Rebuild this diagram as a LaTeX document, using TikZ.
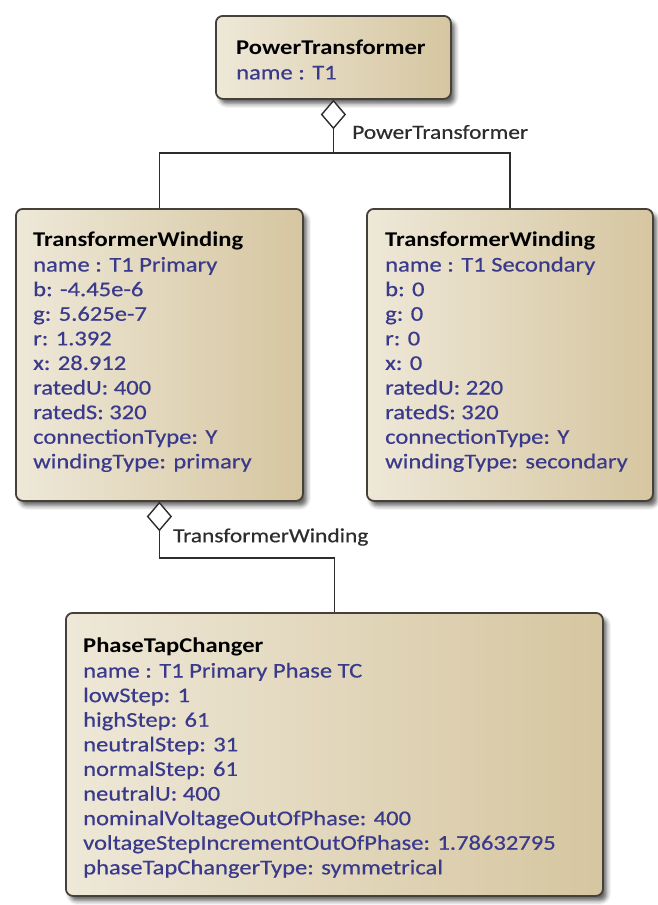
\documentclass[tikz,border=0pt]{standalone}
\usepackage{fontspec}
\setmainfont{Carlito}[FakeStretch=1.17, UprightFeatures={FakeBold=0.5}]
\usetikzlibrary{shapes.geometric,shadows.blur}

\definecolor{boxleft}{RGB}{238,232,216}
\definecolor{boxlight}{RGB}{248,245,236}
\definecolor{boxdark}{RGB}{214,198,160}
\definecolor{boxedge}{RGB}{70,64,58}
\definecolor{attrblue}{RGB}{58,58,140}
\definecolor{linkgray}{RGB}{45,45,45}

\tikzset{
  umlbox/.style={rectangle, rounded corners=7pt, draw=boxedge, line width=1.8pt,
    left color=boxleft, middle color=boxlight, right color=boxdark,
    blur shadow={shadow xshift=4pt, shadow yshift=-5pt, shadow blur radius=4pt, shadow opacity=60},
    inner sep=0pt, anchor=north west},
  attrs/.style={anchor=north west, inner sep=0pt, align=left, text=attrblue,
    font=\fontsize{21}{24.6}\selectfont},
  aggdiamond/.style={diamond, draw=linkgray, fill=white, line width=1.4pt,
    minimum width=24pt, minimum height=28pt, inner sep=0pt, anchor=north},
  link/.style={draw=linkgray, line width=1.4pt},
  rolelabel/.style={anchor=west, inner sep=0pt, text=linkgray,
    font=\fontsize{20}{24}\selectfont}
}
\newcommand{\clsname}[1]{{\color{black}\bfseries #1}}

\begin{document}
\begin{tikzpicture}[x=1pt,y=-1pt]
\useasboundingbox (0,0) rectangle (658,905);

% class boxes
\node[umlbox, minimum width=235, minimum height=83] (pt) at (215,15) {};
\node[umlbox, minimum width=287, minimum height=292] (lw) at (15,208) {};
\node[umlbox, minimum width=286, minimum height=292] (rw) at (366,208) {};
\node[umlbox, minimum width=537, minimum height=283] (ptc) at (65,612) {};

% box contents
\node[attrs] (ptT) at (236,40) {\clsname{PowerTransformer}\\name : T1};
\node[attrs] (lwT) at (33,232) {\clsname{TransformerWinding}\\
name : T1 Primary\\
b: -4.45e-6\\
g: 5.625e-7\\
r: 1.392\\
x: 28.912\\
ratedU: 400\\
ratedS: 320\\
connectionType: Y\\
windingType: primary};
\node[attrs] (rwT) at (385,232) {\clsname{TransformerWinding}\\
name : T1 Secondary\\
b: 0\\
g: 0\\
r: 0\\
x: 0\\
ratedU: 220\\
ratedS: 320\\
connectionType: Y\\
windingType: secondary};
\node[attrs] (ptcT) at (83,638) {\clsname{PhaseTapChanger}\\
name : T1 Primary Phase TC\\
lowStep: 1\\
highStep: 61\\
neutralStep: 31\\
normalStep: 61\\
neutralU: 400\\
nominalVoltageOutOfPhase: 400\\
voltageStepIncrementOutOfPhase: 1.78632795\\
phaseTapChangerType: symmetrical};

% aggregation from PowerTransformer to its windings
\node[aggdiamond] (d1) at (pt.south) {};
\coordinate (j1) at (d1.south |- 0,153);
\coordinate (jl) at (lw.north |- j1);
\coordinate (jr) at (rw.north |- j1);
\draw[link] (d1.south) -- (j1);
\draw[link] (lw.north) -- (jl) -- (jr) -- (rw.north);
\node[rolelabel] (l1) at (352,132) {PowerTransformer};

% aggregation from the primary winding to its tap changer
\node[aggdiamond] (d2) at (lw.south) {};
\coordinate (j2) at (ptc.north |- 0,558);
\draw[link] (d2.south) |- (j2) -- (ptc.north);
\node[rolelabel] (l2) at (173,537) {TransformerWinding};
\end{tikzpicture}
\end{document}
